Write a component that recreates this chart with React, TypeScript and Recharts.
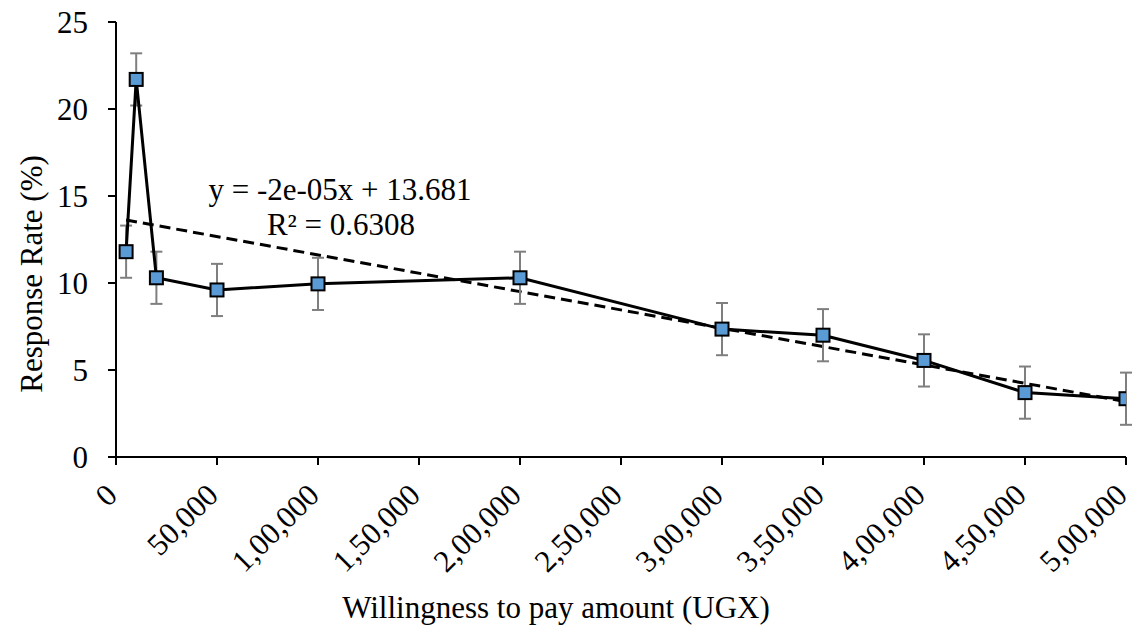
import { ComposedChart, Line, XAxis, YAxis, ErrorBar } from 'recharts'

const amounts = [5000, 10000, 20000, 50000, 100000, 200000, 300000, 350000, 400000, 450000, 500000]
const responseRates = [11.8, 21.7, 10.3, 9.6, 9.95, 10.3, 7.35, 7.0, 5.55, 3.7, 3.35]
const errorMargins = [1.5, 1.5, 1.5, 1.5, 1.5, 1.5, 1.5, 1.5, 1.5, 1.5, 1.5]

const trendAmounts = [5000, 500000]
const trendRates = [13.62, 3.18]

const xTicks = [0, 50000, 100000, 150000, 200000, 250000, 300000, 350000, 400000, 450000, 500000]
const xTickLabels = ['0', '50,000', '1,00,000', '1,50,000', '2,00,000', '2,50,000', '3,00,000', '3,50,000', '4,00,000', '4,50,000', '5,00,000']
const yTicks = [0, 5, 10, 15, 20, 25]

const FONT = "'Liberation Serif', Tinos, 'Times New Roman', Times, 'DejaVu Serif', 'Noto Serif', serif"
const FS = 31

const W = 1135
const H = 628
const X_AXIS_H = 171
const AXIS_Y = H - X_AXIS_H

function SquareDot(props: any) {
  const { cx, cy, index } = props
  if (cx == null || cy == null) return null
  return <rect key={index} x={cx - 6.5} y={cy - 6.5} width={13} height={13} fill="#5B9BD5" stroke="#000" strokeWidth={2} />
}

// rotated tick labels, anchored at their right end below each tick
function XTick(props: any) {
  const { x, payload } = props
  const i = xTicks.indexOf(payload.value)
  const label = i >= 0 ? xTickLabels[i] : String(payload.value)
  const px = x + 3
  const py = AXIS_Y + 40
  return (
    <text x={px} y={py} textAnchor="end" transform={`rotate(-45, ${px}, ${py})`} style={{ fontSize: FS, fontFamily: FONT }} fill="#000">
      {label}
    </text>
  )
}

export default function App() {
  const data = amounts.map((x, i) => ({ x, rate: responseRates[i], err: errorMargins[i] }))
  const trend = trendAmounts.map((x, i) => ({ x, trend: trendRates[i] }))
  const textStyle = { fontSize: FS, fontFamily: FONT }

  return (
    <div style={{ position: 'absolute', left: 0, top: 0, width: W, height: H, background: '#fff', fontFamily: FONT }}>
      <ComposedChart width={W} height={H} margin={{ top: 22, right: 9, left: 0, bottom: 0 }}>
        <XAxis
          type="number"
          dataKey="x"
          domain={[0, 500000]}
          ticks={xTicks}
          interval={0}
          height={X_AXIS_H}
          tickSize={8}
          tick={<XTick />}
          axisLine={{ stroke: '#000', strokeWidth: 2 }}
          tickLine={{ stroke: '#000', strokeWidth: 2 }}
          allowDataOverflow
        />
        <YAxis
          type="number"
          domain={[0, 25]}
          ticks={yTicks}
          interval={0}
          width={116}
          tickSize={8}
          tickMargin={20}
          tick={{ fontSize: FS, fill: '#000', fontFamily: FONT }}
          axisLine={{ stroke: '#000', strokeWidth: 2 }}
          tickLine={{ stroke: '#000', strokeWidth: 2 }}
        />
        <Line
          data={trend}
          dataKey="trend"
          type="linear"
          stroke="#000"
          strokeWidth={3}
          strokeDasharray="11 6"
          dot={false}
          activeDot={false}
          isAnimationActive={false}
        />
        <Line
          data={data}
          dataKey="rate"
          type="linear"
          stroke="#000"
          strokeWidth={3}
          dot={<SquareDot />}
          activeDot={false}
          isAnimationActive={false}
        >
          <ErrorBar dataKey="err" direction="y" width={6} stroke="#7F7F7F" strokeWidth={2} />
        </Line>
      </ComposedChart>
      <svg width={W} height={H} style={{ position: 'absolute', left: 0, top: 0, pointerEvents: 'none' }}>
        <text x={340} y={200} textAnchor="middle" style={textStyle} fill="#000">
          y = -2e-05x + 13.681
        </text>
        <text x={341} y={235} textAnchor="middle" style={textStyle} fill="#000">
          R² = 0.6308
        </text>
        <text x={42} y={274} textAnchor="middle" transform="rotate(-90, 42, 274)" style={textStyle} fill="#000">
          Response Rate (%)
        </text>
        <text x={556} y={618} textAnchor="middle" style={textStyle} fill="#000">
          Willingness to pay amount (UGX)
        </text>
      </svg>
    </div>
  )
}
